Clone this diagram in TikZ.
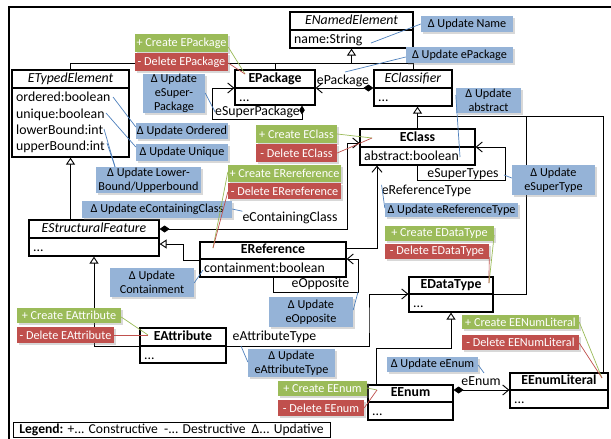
\documentclass[tikz,border=0pt]{standalone}
\usepackage{fontspec}
\setmainfont{Carlito}
\usetikzlibrary{arrows.meta,calc,fit,shadows}
\definecolor{lblue}{HTML}{95B3D7}
\definecolor{lgreen}{HTML}{9BBB59}
\definecolor{lred}{HTML}{C0504D}
\definecolor{dblue}{HTML}{4F81BD}
\newcommand\fsC{\fontsize{13.8}{16.3}\selectfont}
\newcommand\fsL{\fontsize{12.2}{14.3}\selectfont}
\newcommand\umlcls[8]{%
  \node[clsbox, fit={(#2,#3) (#4,#6)}] (#1) {};
  \draw[clsline] (#2,#5) -- (#4,#5);
  \node[clstitle] (#1-t) at ($(#2,#3)!0.5!(#4,#5)$) {\strut #7};
  \node[clsbody] (#1-b) at ($(#2,#5)+(4,2.1)$) {#8};
}
\newcommand\mklab[7]{\node[#1, minimum width={#5-#3}, minimum height={#6-#4}] (#2) at ($(#3,#4)!0.5!(#5,#6)$) {#7};}
\begin{document}
\begin{tikzpicture}[x=1pt,y=-1pt,
  clsbox/.style={draw, line width=1.2pt, inner sep=0pt, fill=white},
  clsline/.style={line width=1.2pt},
  clstitle/.style={inner sep=0pt, font=\fsC},
  clsbody/.style={anchor=north west, inner sep=0pt, align=left, font=\fsC},
  conn/.style={line width=0.9pt},
  inh/.style={conn, -{Triangle[length=7pt,width=9pt,fill=white,line width=0.9pt]}},
  nav/.style={conn, -{Straight Barb[length=6pt,width=10pt,line width=0.9pt]}},
  comp/.style={conn, {Diamond[length=10pt,width=7pt]}-{Straight Barb[length=6pt,width=10pt,line width=0.9pt]}},
  comps/.style={conn, {Diamond[length=9pt,width=5.5pt]}-{Straight Barb[length=6pt,width=10pt,line width=0.9pt]}},
  asslbl/.style={inner sep=0pt, font=\fsC, anchor=base},
  lbl/.style={inner sep=0pt, align=center, font=\fsL, drop shadow={shadow xshift=1.8pt, shadow yshift=-1.8pt, opacity=0.3}},
  glbl/.style={lbl, fill=lgreen, text=white},
  rlbl/.style={lbl, fill=lred, text=white},
  blbl/.style={lbl, fill=lblue, text=black},
  gl/.style={lgreen, line width=0.7pt},
  rl/.style={lred, line width=0.7pt},
  bl/.style={dblue, line width=0.7pt}]
\useasboundingbox (0,0) rectangle (611,439);
\fill[white] (0,0) rectangle (611,439);
% frame
\draw[line width=1.1pt] (9,439) -- (9,7) -- (611,7);

% classes
\umlcls{eNamed}{290}{12}{413}{30}{48}{\textit{ENamedElement}}{\strut name:String}
\umlcls{eTyped}{12}{70}{129}{88}{157}{\textit{ETypedElement}}{\strut ordered:boolean\\\strut unique:boolean\\\strut lowerBound:int\\\strut upperBound:int}
\umlcls{ePkg}{235}{70}{315}{88}{105}{\textbf{EPackage}}{\strut ...}
\umlcls{eClassifier}{374}{70}{452}{88}{106}{\textit{EClassifier}}{\strut ...}
\umlcls{eClass}{360}{129}{475}{147}{165}{\textbf{EClass}}{\strut abstract:boolean}
\umlcls{eSF}{29}{220}{159}{238}{256}{\textit{EStructuralFeature}}{\strut ...}
\umlcls{eRef}{200}{242}{346}{259}{277}{\textbf{EReference}}{\strut containment:boolean}
\umlcls{eDT}{409}{277}{493}{294}{312}{\textbf{EDataType}}{\strut ...}
\umlcls{eAttr}{140}{328}{226}{346}{363}{\textbf{EAttribute}}{\strut ...}
\umlcls{eEnum}{368}{385}{453}{402}{420}{\textbf{EEnum}}{\strut ...}
\umlcls{eEnumLit}{510}{373}{608}{390}{408}{\textbf{EEnumLiteral}}{\strut ...}

% generalisations
\draw[inh] (eTyped.north) |- (eNamed.south |- 0,63) -- (eNamed.south);
\draw[conn] (ePkg.north) -- (ePkg.north |- 0,63);
\draw[conn] (eClassifier.north) -- (eClassifier.north |- 0,63) -- (eNamed.south |- 0,63);
\draw[inh] (eClass.north) -- (eClass.north |- eClassifier.south);
\draw[conn] (eClass.north |- 0,116) -| (eEnumLit.north -| 603,0);
\draw[conn] (eDT.east |- 0,294) -| (526,116);
\draw[inh] (eTyped.south |- eSF.north) -- (eTyped.south);
\draw[inh] (eRef.west |- 0,260) -- (183,260) |- (eSF.east |- 0,244);
\draw[inh] (eAttr.west |- 0,346) -| (eSF.south);
\draw[inh] (eEnum.north -| 376,0) |- (eDT.south |- 0,348) -- (eDT.south);

% associations
\draw[comp] (eClassifier.west |- 0,88) -- (ePkg.east |- 0,88);
\node[asslbl] (lPkg) at (343,84) {ePackage};
\draw[comps] (ePkg.south -| 302,0) |- (212,119) |- (ePkg.west |- 0,88);
\node[asslbl] (lSuperPkg) at (257.5,115.5) {eSuperPackage};
\draw[nav] (eClass.south) |- (505,180) |- (eClass.east |- 0,147);
\node[asslbl] (lSuperTypes) at (463,177.5) {eSuperTypes};
\draw[comp] (eSF.east |- 0,229) -| (347,143) -- (eClass.west |- 0,143);
\node[asslbl] (lContCls) at (290,221) {eContainingClass};
\draw[nav] (eRef.east |- 0,248) -| (eClass.south -| 377,0);
\node[asslbl] (lRefType) at (426.5,194.5) {eReferenceType};
\draw[nav] (eRef.south -| 273,0) |- (358,292) |- (eRef.east |- 0,259);
\node[asslbl] (lOpp) at (320.5,287.5) {eOpposite};
\draw[nav] (eAttr.east |- 0,346) -| (369,320) |- (eDT.west |- 0,294);
\node[asslbl] (lAttrType) at (274.5,340.5) {eAttributeType};
\draw[comp] (eEnum.east |- 0,390) -- (eEnumLit.west |- 0,390);
\node[asslbl] (lEnum) at (481,385) {eEnum};

% change labels
\mklab{glbl}{cEPkg}{135}{34}{228}{52}{+ Create EPackage}
\mklab{rlbl}{dEPkg}{135}{53}{228}{71}{- Delete EPackage}
\mklab{blbl}{uSuperPkg}{143}{74}{205}{113}{Δ Update\\eSuper-\\Package}
\mklab{blbl}{uOrdered}{136}{123}{228}{139}{Δ Update Ordered}
\mklab{blbl}{uUnique}{136}{144}{228}{161}{Δ Update Unique}
\mklab{blbl}{uBounds}{96}{167}{201}{193}{Δ Update Lower-\\Bound/Upperbound}
\mklab{blbl}{uContCls}{82}{201}{232}{218}{Δ Update eContainingClass}
\mklab{glbl}{cEClass}{256}{125}{337}{143}{+ Create EClass}
\mklab{rlbl}{dEClass}{256}{144}{337}{162}{- Delete EClass}
\mklab{glbl}{cERef}{228}{165}{341}{182}{+ Create ERereference}
\mklab{rlbl}{dERef}{228}{183}{341}{199}{- Delete ERereference}
\mklab{blbl}{uCont}{110}{268}{194}{297}{Δ Update\\Containment}
\mklab{blbl}{uOpp}{269}{297}{353}{327}{Δ Update\\eOpposite}
\mklab{blbl}{uAttrType}{248}{349}{335}{377}{Δ Update\\eAttributeType}
\mklab{glbl}{cEAttr}{17}{308}{121}{323}{+ Create EAttribute}
\mklab{rlbl}{dEAttr}{17}{327}{114}{343}{- Delete EAttribute}
\mklab{glbl}{cEEnum}{278}{381}{367}{396}{+ Create EEnum}
\mklab{rlbl}{dEEnum}{278}{400}{364}{416}{- Delete EEnum}
\mklab{blbl}{uEEnum}{387}{357}{478}{372}{Δ Update eEnum}
\mklab{glbl}{cELit}{462}{315}{579}{329}{+ Create EENumLiteral}
\mklab{rlbl}{dELit}{462}{335}{579}{350}{- Delete EENumLiteral}
\mklab{glbl}{cEDT}{385}{226}{494}{241}{+ Create EDataType}
\mklab{rlbl}{dEDT}{385}{244}{489}{259}{- Delete EDataType}
\mklab{blbl}{uRefType}{385}{203}{518}{217}{Δ Update eReferenceType}
\mklab{blbl}{uSuperType}{512}{165}{595}{195}{Δ Update\\eSuperType}
\mklab{blbl}{uAbstract}{456}{88}{521}{113}{Δ Update\\abstract}
\mklab{blbl}{uName}{421}{16}{513}{32}{Δ Update Name}
\mklab{blbl}{uEPkgRef}{406}{47}{513}{63}{Δ Update ePackage}

% label leaders
\coordinate (tEPkg) at (245,74);
\draw[gl] (cEPkg.east |- 0,47) -- (tEPkg);
\draw[rl] (dEPkg.east |- 0,63) -- (tEPkg);
\draw[bl] (uSuperPkg.east |- 0,93) -- (lSuperPkg.west);
\draw[bl] (uOrdered.west |- 0,127) -- (113,97);
\draw[bl] (uUnique.west |- 0,147) -- (106,113);
\draw[bl] (uBounds.north -| 115,0) -- (104,129);
\draw[bl] (uBounds.north -| 115,0) -- (107,143);
\draw[bl] (uContCls.east |- 0,209) -- (lContCls.north west);
\coordinate (tEClass) at (372,138);
\draw[gl] (cEClass.east |- 0,134) -- (tEClass);
\draw[rl] (dEClass.east |- 0,153) -- (tEClass);
\coordinate (tERef) at (213,248);
\draw[gl] (cERef.west |- 0,172) -- (tERef);
\draw[rl] (dERef.west |- 0,192) -- (tERef);
\draw[bl] (uCont.east |- 0,283) -- (203,270);
\draw[bl] (uOpp.east |- 0,310) -- (358,292);
\draw[bl] (uAttrType.west |- 0,362) -- (241,346);
\coordinate (tEAttr) at (148,335);
\draw[gl] (cEAttr.east |- 0,317) -- (tEAttr);
\draw[rl] (dEAttr.east |- 0,335) -- (tEAttr);
\coordinate (tEEnum) at (377,390);
\draw[gl] (cEEnum.east |- 0,388) -- (tEEnum);
\draw[rl] (dEEnum.east |- 0,408) -- (tEEnum);
\draw[bl] (uEEnum.east |- 0,365) -- (484,373);
\coordinate (tELit) at (602,378);
\draw[gl] (cELit.east |- 0,322) -- (tELit);
\draw[rl] (dELit.east |- 0,343) -- (tELit);
\coordinate (tEDT) at (489,283);
\draw[gl] (cEDT.east |- 0,235) -- (tEDT);
\draw[rl] (dEDT.east |- 0,257) -- (tEDT);
\draw[bl] (uRefType.west |- 0,208) -- (lRefType.north west);
\draw[bl] (uSuperType.west |- 0,178) -- (504,175);
\draw[bl] (uAbstract.west |- 0,95) -- (460,157);
\draw[bl] (uName.west |- 0,24) -- (371,43);
\draw[bl] (uEPkgRef.west |- 0,57) -- (345,72);

% legend
\node[draw, line width=0.9pt, inner sep=0pt, minimum width=317, minimum height=15, font=\fontsize{13.6}{16}\selectfont] (legend) at (171.5,429.5) {\textbf{Legend:} +... Constructive\ \ -... Destructive\ \ Δ... Updative};
\end{tikzpicture}
\end{document}
